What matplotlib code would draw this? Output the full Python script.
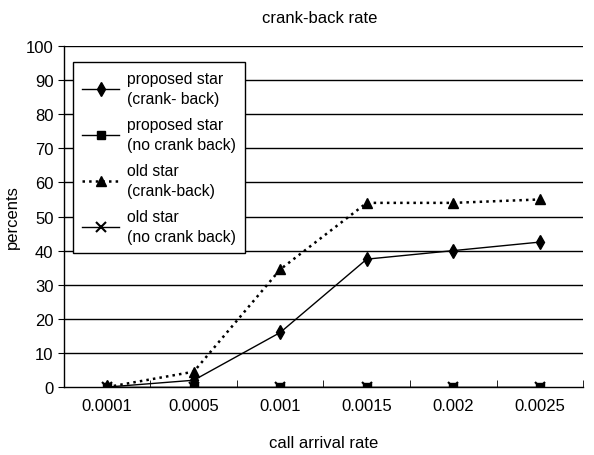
import matplotlib
matplotlib.use("Agg")
import matplotlib.pyplot as plt
import numpy as np

plt.rcParams['font.family'] = ['Liberation Sans', 'DejaVu Sans']

categories = ["0.0001", "0.0005", "0.001", "0.0015", "0.002", "0.0025"]
proposed_cb = [0, 2, 16, 37.5, 40, 42.5]
proposed_ncb = [0, 0, 0, 0, 0, 0]
old_cb = [0, 4.5, 34.5, 54, 54, 55]
old_ncb = [0, 0, 0, 0, 0, 0]
yticks = list(range(0, 101, 10))

FS = 12
fig = plt.figure(figsize=(5.94, 4.56), dpi=100)
ax = fig.add_axes([0.1077, 0.149, 0.8738, 0.748])
x = np.arange(len(categories))

ax.plot(x, proposed_cb, '-', color='black', lw=1.0, marker='d', ms=7, label='proposed star\n(crank- back)', zorder=4)
ax.plot(x, proposed_ncb, '-', color='black', lw=1.0, marker='s', ms=6, label='proposed star\n(no crank back)', zorder=3)
ax.plot(x, old_cb, ':', color='black', lw=1.8, marker='^', ms=7, label='old star\n(crank-back)', zorder=4)
ax.plot(x, old_ncb, '-', color='black', lw=1.0, marker='x', ms=7, mew=1.5, label='old star\n(no crank back)', zorder=5)

ax.set_xlim(-0.5, len(categories) - 0.5)
ax.set_ylim(0, 100)
ax.set_yticks(yticks)
ax.set_xticks(x)
ax.set_xticklabels(categories, fontsize=FS)
ax.tick_params(axis='x', length=0, pad=8)
ax.set_xticks(np.arange(-0.5, len(categories), 1.0), minor=True)
ax.tick_params(axis='x', which='minor', length=5, direction='in', color='black')
ax.tick_params(axis='y', labelsize=FS, length=4, direction='out')
for v in yticks[1:]:
    ax.axhline(v, color='black', lw=1.0, zorder=1)
for s in ['top', 'right']:
    ax.spines[s].set_visible(False)
ax.spines['left'].set_linewidth(1.0)
ax.spines['bottom'].set_linewidth(1.0)

ax.set_ylabel('percents', fontsize=FS)
ax.set_xlabel('call arrival rate', fontsize=FS, labelpad=16)
fig.text(0.538, 0.96, 'crank-back rate', ha='center', va='center', fontsize=FS)

leg = ax.legend(loc='upper left', bbox_to_anchor=(0.017, 0.953), fontsize=11.3,
                frameon=True, fancybox=False, edgecolor='black', framealpha=1,
                handlelength=2.35, handletextpad=0.5, labelspacing=0.75, borderpad=0.6,
                borderaxespad=0)
leg.get_frame().set_linewidth(1.0)
for t in leg.get_texts():
    t.set_linespacing(1.35)

fig.savefig('out.png', dpi=100)
